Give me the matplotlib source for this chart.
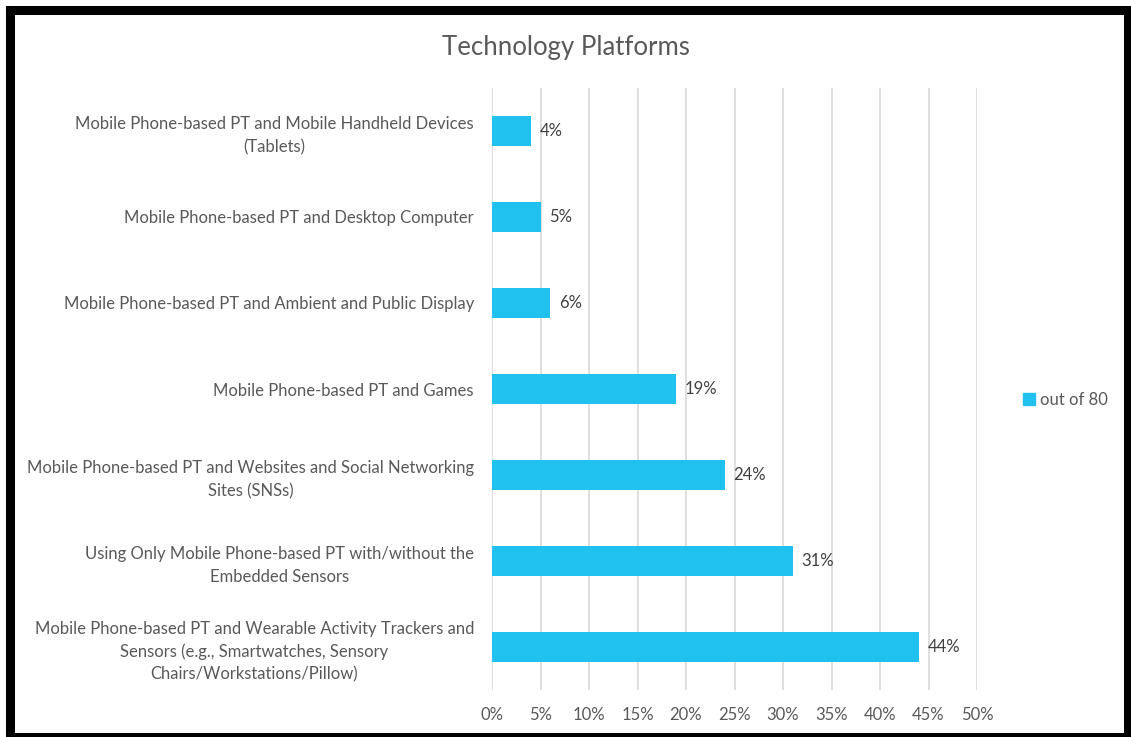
import matplotlib
matplotlib.use("Agg")
import matplotlib.pyplot as plt
from matplotlib.patches import Rectangle, Patch
from matplotlib.ticker import PercentFormatter

categories = [
    "Mobile Phone-based PT and Wearable Activity Trackers and\nSensors (e.g., Smartwatches, Sensory\nChairs/Workstations/Pillow)",
    "Using Only Mobile Phone-based PT with/without the\nEmbedded Sensors",
    "Mobile Phone-based PT and Websites and Social Networking\nSites (SNSs)",
    "Mobile Phone-based PT and Games",
    "Mobile Phone-based PT and Ambient and Public Display",
    "Mobile Phone-based PT and Desktop Computer",
    "Mobile Phone-based PT and Mobile Handheld Devices\n(Tablets)",
]
values = [44, 31, 24, 19, 6, 5, 4]
series_name = "out of 80"
xticks = [0, 5, 10, 15, 20, 25, 30, 35, 40, 45, 50]

bar_color = "#20C1EE"
text_color = "#595959"
plt.rcParams["font.family"] = ["Lato", "DejaVu Sans"]

W, H = 1131, 737
fig = plt.figure(figsize=(W / 100, H / 100), dpi=100)
ax = fig.add_axes([492 / W, 1 - 690 / H, (977 - 492) / W, (690 - 88) / H])

ypos = list(range(len(categories)))
ax.barh(ypos, values, height=0.35, color=bar_color, zorder=3)
for y, v in zip(ypos, values):
    ax.text(v + 0.9, y, f"{v}%", va="center", ha="left", fontsize=12, color="#404040")

ax.set_xlim(0, 50)
ax.set_ylim(-0.5, len(categories) - 0.5)
ax.set_xticks(xticks)
ax.xaxis.set_major_formatter(PercentFormatter(decimals=0))
ax.set_yticks(ypos)
ax.set_yticklabels(categories, multialignment="center", fontsize=12,
                   color=text_color, linespacing=1.5)
ax.tick_params(axis="y", length=0, pad=13)
ax.tick_params(axis="x", length=0, pad=12, labelsize=12, labelcolor=text_color)
ax.grid(axis="x", color="#D9D9D9", linewidth=1.2, zorder=0)
for s in ax.spines.values():
    s.set_visible(False)

fig.text(0.5, 1 - 47 / H, "Technology Platforms", ha="center", va="center",
         fontsize=18.5, color=text_color)

fig.legend(handles=[Patch(color=bar_color, label=series_name)],
           loc="center left", bbox_to_anchor=(1008 / W, 1 - 400 / H),
           frameon=False, handlelength=0.7, handleheight=0.7, handletextpad=0.3,
           fontsize=12, labelcolor=text_color)

# frame around the whole figure
fig.patches.append(Rectangle((9.5 / W, 0.0), (1128 - 9.5) / W, 1 - 10 / H,
                             transform=fig.transFigure, fill=False,
                             edgecolor="black", linewidth=6.5))

fig.savefig("out.png", dpi=100, facecolor="white")
